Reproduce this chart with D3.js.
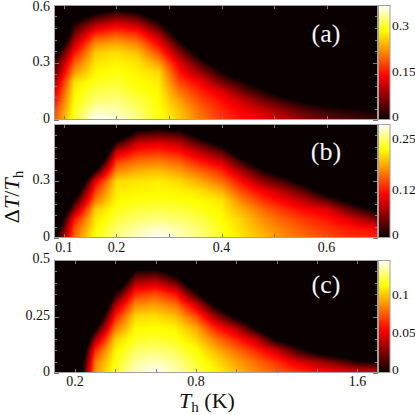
<!DOCTYPE html>
<html>
<head>
<meta charset="utf-8">
<script src="https://cdn.jsdelivr.net/npm/d3@7"></script>
<style>
  body { margin: 0; background: #fff; }
  svg { display: block; }
  text { font-family: "Liberation Serif", "DejaVu Serif", serif; }
</style>
</head>
<body>
<div id="chart"></div>
<script>
// grid positions (Th in K, dT/Th)
var thAB = [0.08,0.12,0.16,0.2,0.24,0.28,0.32,0.36,0.4,0.44,0.48,0.52,0.56,0.6,0.64,0.68,0.72];
var dtAB = [0,0.05,0.1,0.15,0.2,0.25,0.3,0.35,0.4,0.45,0.5,0.55,0.6];
var thC = [0.1,0.2,0.3,0.4,0.5,0.6,0.7,0.8,0.9,1.0,1.1,1.2,1.3,1.4,1.5,1.6,1.7];
var dtC = [0,0.05,0.1,0.15,0.2,0.25,0.3,0.35,0.4,0.45,0.5];

// values read off the picture as a fraction of each colour bar's top,
// one array per Th column, from dT/Th = 0 upwards; below zero shows black
var zA = [
  [0.5,0.46,0.38,0.3,0.2,0.1,0.03,-0.1,-0.3,-0.5,-0.7,-0.9,-1],
  [0.82,0.8,0.78,0.76,0.73,0.62,0.52,0.4,0.28,0.16,0.04,-0.15,-0.35],
  [1.0,0.94,0.88,0.84,0.8,0.77,0.74,0.7,0.6,0.44,0.24,0.03,-0.2],
  [0.96,0.93,0.89,0.85,0.82,0.79,0.76,0.73,0.64,0.5,0.34,0.12,-0.12],
  [0.9,0.87,0.84,0.8,0.78,0.76,0.74,0.68,0.58,0.45,0.27,0.06,-0.18],
  [0.8,0.79,0.78,0.77,0.75,0.72,0.62,0.5,0.38,0.24,0.06,-0.14,-0.34],
  [0.7,0.68,0.63,0.56,0.48,0.41,0.33,0.2,0.05,-0.12,-0.3,-0.5,-0.7],
  [0.57,0.54,0.49,0.43,0.36,0.22,0.08,-0.08,-0.25,-0.45,-0.65,-0.85,-1],
  [0.47,0.44,0.4,0.33,0.16,0.02,-0.14,-0.32,-0.5,-0.7,-0.9,-1,-1],
  [0.4,0.37,0.3,0.15,0.02,-0.14,-0.32,-0.5,-0.7,-0.9,-1,-1,-1],
  [0.35,0.3,0.16,0.03,-0.12,-0.3,-0.5,-0.7,-0.9,-1,-1,-1,-1],
  [0.28,0.2,0.06,-0.1,-0.28,-0.46,-0.66,-0.86,-1,-1,-1,-1,-1],
  [0.21,0.11,-0.02,-0.18,-0.35,-0.52,-0.7,-0.9,-1,-1,-1,-1,-1],
  [0.16,0.06,-0.06,-0.22,-0.4,-0.6,-0.8,-1,-1,-1,-1,-1,-1],
  [0.11,0.03,-0.1,-0.28,-0.46,-0.66,-0.86,-1,-1,-1,-1,-1,-1],
  [0.08,0.01,-0.12,-0.3,-0.5,-0.7,-0.9,-1,-1,-1,-1,-1,-1],
  [0.06,0.0,-0.14,-0.32,-0.52,-0.72,-0.92,-1,-1,-1,-1,-1,-1]
];
var zB = [
  [-0.1,-0.2,-0.35,-0.5,-0.65,-0.8,-1,-1,-1,-1,-1,-1,-1],
  [0.55,0.5,0.4,0.2,0.02,-0.18,-0.38,-0.58,-0.78,-1,-1,-1,-1],
  [0.8,0.77,0.74,0.7,0.57,0.47,0.34,0.05,-0.25,-0.5,-0.75,-1,-1],
  [0.9,0.87,0.83,0.8,0.77,0.75,0.72,0.6,0.48,0.3,0.06,-0.2,-0.45],
  [0.96,0.92,0.87,0.83,0.79,0.76,0.74,0.66,0.56,0.44,0.3,0.08,-0.16],
  [1.0,0.95,0.89,0.84,0.8,0.77,0.75,0.68,0.58,0.46,0.33,0.12,-0.12],
  [0.96,0.92,0.87,0.83,0.79,0.76,0.72,0.63,0.53,0.41,0.27,0.08,-0.16],
  [0.9,0.87,0.84,0.8,0.77,0.73,0.64,0.54,0.42,0.28,0.1,-0.1,-0.3],
  [0.82,0.8,0.78,0.76,0.74,0.65,0.55,0.45,0.32,0.14,-0.06,-0.26,-0.46],
  [0.74,0.72,0.7,0.65,0.57,0.48,0.38,0.24,0.06,-0.14,-0.34,-0.54,-0.74],
  [0.67,0.64,0.6,0.54,0.45,0.36,0.2,0.04,-0.16,-0.36,-0.56,-0.76,-0.96],
  [0.6,0.57,0.52,0.45,0.36,0.24,0.08,-0.12,-0.32,-0.52,-0.72,-0.92,-1],
  [0.55,0.51,0.46,0.38,0.26,0.1,-0.1,-0.3,-0.5,-0.7,-0.9,-1,-1],
  [0.5,0.46,0.41,0.34,0.12,-0.1,-0.3,-0.5,-0.7,-0.9,-1,-1,-1],
  [0.46,0.42,0.34,0.16,-0.04,-0.24,-0.44,-0.64,-0.84,-1,-1,-1,-1],
  [0.45,0.39,0.22,0.02,-0.2,-0.4,-0.6,-0.8,-1,-1,-1,-1,-1],
  [0.43,0.35,0.1,-0.12,-0.32,-0.52,-0.72,-0.92,-1,-1,-1,-1,-1]
];
var zC = [
  [-1,-1,-1,-1,-1,-1,-1,-1,-1,-1,-1],
  [-0.35,-0.4,-0.5,-0.6,-0.75,-0.9,-1,-1,-1,-1,-1],
  [0.62,0.56,0.44,0.22,-0.03,-0.28,-0.53,-0.78,-1,-1,-1],
  [0.82,0.79,0.76,0.7,0.56,0.42,0.25,0.02,-0.25,-0.5,-0.75],
  [0.95,0.91,0.86,0.81,0.77,0.72,0.6,0.45,0.25,0.02,-0.25],
  [1.0,0.94,0.88,0.82,0.78,0.73,0.63,0.5,0.3,0.05,-0.22],
  [0.94,0.9,0.85,0.8,0.76,0.68,0.56,0.4,0.15,-0.1,-0.35],
  [0.85,0.82,0.78,0.72,0.64,0.5,0.32,0.05,-0.2,-0.45,-0.7],
  [0.77,0.73,0.66,0.56,0.42,0.22,-0.04,-0.3,-0.55,-0.8,-1],
  [0.68,0.63,0.55,0.43,0.26,-0.04,-0.3,-0.56,-0.8,-1,-1],
  [0.6,0.54,0.44,0.28,-0.03,-0.3,-0.56,-0.8,-1,-1,-1],
  [0.53,0.45,0.3,-0.03,-0.3,-0.56,-0.8,-1,-1,-1,-1],
  [0.48,0.33,0.08,-0.15,-0.4,-0.65,-0.9,-1,-1,-1,-1],
  [0.43,0.24,-0.08,-0.3,-0.55,-0.8,-1,-1,-1,-1,-1],
  [0.39,0.15,-0.2,-0.42,-0.66,-0.9,-1,-1,-1,-1,-1],
  [0.36,0.03,-0.3,-0.52,-0.76,-1,-1,-1,-1,-1,-1],
  [0.33,-0.02,-0.35,-0.58,-0.82,-1,-1,-1,-1,-1,-1]
];

// colour bar tops and ticks
var cbMax = [0.37, 0.29, 0.146];
var cbTicksA = [0, 0.15, 0.3];
var cbTicksB = [0, 0.12, 0.25];
var cbTicksC = [0, 0.05, 0.1];

// axis ticks
var xTicksAB = [0.1,0.2,0.3,0.4,0.5,0.6];
var xLabelsB = [0.1,0.2,0.4,0.6];
var xTicksC = [0.2,0.4,0.6,0.8,1.0,1.2,1.4,1.6];
var xLabelsC = [0.2,0.8,1.6];
var yTicksAB = [0,0.06,0.12,0.18,0.24,0.3,0.36,0.42,0.48,0.54,0.6];
var yTicksC = [0,0.05,0.1,0.15,0.2,0.25,0.3,0.35,0.4,0.45,0.5];
var yLabelsA = [0,0.3,0.6];
var yLabelsB = [0,0.3];
var yLabelsC = [0,0.25,0.5];
var panelNames = ["(a)", "(b)", "(c)"];

var width = 415, height = 415;
var left = 54, right = 378, cbW = 11.5;
var serif = "Liberation Serif";

var hot = d3.scaleLinear()
  .domain([0, 0.38, 0.78, 1])
  .range(["#0a0000", "#ff0000", "#ffff00", "#ffffff"])
  .clamp(true);

var panels = [
  {z: zA, th: thAB, dt: dtAB, xdom: [0.081, 0.698], ydom: [0, 0.6], top: 5, bottom: 120,
   xt: xTicksAB, xl: [], yt: yTicksAB, yl: yLabelsA, ymaj: [0, 0.3, 0.6], cbt: cbTicksA, lab: 41.5},
  {z: zB, th: thAB, dt: dtAB, xdom: [0.081, 0.698], ydom: [0, 0.6], top: 124, bottom: 238,
   xt: xTicksAB, xl: xLabelsB, yt: yTicksAB, yl: yLabelsB, ymaj: [0, 0.3, 0.6], cbt: cbTicksB, lab: 159.5},
  {z: zC, th: thC, dt: dtC, xdom: [0.096, 1.702], ydom: [0, 0.5], top: 260, bottom: 373,
   xt: xTicksC, xl: xLabelsC, yt: yTicksC, yl: yLabelsC, ymaj: [0, 0.25, 0.5], cbt: cbTicksC, lab: 292.5}
];

var svg = d3.select("#chart").append("svg")
  .attr("width", width)
  .attr("height", height);

var defs = svg.append("defs");

var grad = defs.append("linearGradient")
  .attr("id", "hotgrad")
  .attr("x1", 0).attr("y1", 1).attr("x2", 0).attr("y2", 0);
grad.selectAll("stop")
  .data(hot.domain())
  .enter().append("stop")
    .attr("offset", function(d) { return d; })
    .attr("stop-color", function(d) { return hot(d); });

function densityImage(p, x, y) {
  // smooth shading between the grid points, like a density plot
  var w = right - left, h = p.bottom - p.top;
  var canvas = document.createElement("canvas");
  canvas.width = w; canvas.height = h;
  var ctx = canvas.getContext("2d");
  var img = ctx.createImageData(w, h);
  var gi = d3.scaleLinear().domain([p.th[0], p.th[p.th.length - 1]]).range([0, p.th.length - 1]).clamp(true);
  var gj = d3.scaleLinear().domain([p.dt[0], p.dt[p.dt.length - 1]]).range([0, p.dt.length - 1]).clamp(true);
  for (var py = 0; py < h; py++) {
    var fj = gj(y.invert(p.top + py + 0.5));
    var j0 = Math.min(Math.floor(fj), p.dt.length - 2), tj = fj - j0;
    for (var px = 0; px < w; px++) {
      var fi = gi(x.invert(left + px + 0.5));
      var i0 = Math.min(Math.floor(fi), p.th.length - 2), ti = fi - i0;
      var v = (1 - ti) * ((1 - tj) * p.z[i0][j0] + tj * p.z[i0][j0 + 1]) +
              ti * ((1 - tj) * p.z[i0 + 1][j0] + tj * p.z[i0 + 1][j0 + 1]);
      var c = d3.rgb(hot(v));
      var k = (py * w + px) * 4;
      img.data[k] = c.r; img.data[k + 1] = c.g; img.data[k + 2] = c.b; img.data[k + 3] = 255;
    }
  }
  ctx.putImageData(img, 0, 0);
  return canvas.toDataURL();
}

panels.forEach(function(p, n) {
  var x = d3.scaleLinear().domain(p.xdom).range([left, right]);
  var y = d3.scaleLinear().domain(p.ydom).range([p.bottom, p.top]);
  var cb = d3.scaleLinear().domain([0, cbMax[n]]).range([p.bottom, p.top]);

  var g = svg.append("g");

  g.append("image")
    .attr("href", densityImage(p, x, y))
    .attr("x", left).attr("y", p.top)
    .attr("width", right - left).attr("height", p.bottom - p.top)
    .attr("preserveAspectRatio", "none");

  // ticks on all four sides, pointing inward
  var tk = g.append("g")
    .attr("stroke", "#7a7a7a")
    .attr("stroke-width", 1)
    .attr("shape-rendering", "crispEdges");

  tk.selectAll("line.xb")
    .data(p.xt)
    .enter().append("line")
      .attr("class", "xb")
      .attr("x1", function(d) { return Math.round(x(d)) + 0.5; })
      .attr("x2", function(d) { return Math.round(x(d)) + 0.5; })
      .attr("y1", p.bottom).attr("y2", p.bottom - 4);
  tk.selectAll("line.xt")
    .data(p.xt)
    .enter().append("line")
      .attr("class", "xt")
      .attr("x1", function(d) { return Math.round(x(d)) + 0.5; })
      .attr("x2", function(d) { return Math.round(x(d)) + 0.5; })
      .attr("y1", p.top).attr("y2", p.top + 4);

  function ylen(d) { return p.ymaj.indexOf(d) >= 0 ? 5 : 3; }
  tk.selectAll("line.yl")
    .data(p.yt)
    .enter().append("line")
      .attr("class", "yl")
      .attr("y1", function(d) { return Math.round(y(d)) + 0.5; })
      .attr("y2", function(d) { return Math.round(y(d)) + 0.5; })
      .attr("x1", left).attr("x2", function(d) { return left + ylen(d); });
  tk.selectAll("line.yr")
    .data(p.yt)
    .enter().append("line")
      .attr("class", "yr")
      .attr("y1", function(d) { return Math.round(y(d)) + 0.5; })
      .attr("y2", function(d) { return Math.round(y(d)) + 0.5; })
      .attr("x1", right).attr("x2", function(d) { return right - ylen(d); });

  // frame
  g.append("rect")
    .attr("x", left + 0.5).attr("y", p.top + 0.5)
    .attr("width", right - left - 1).attr("height", p.bottom - p.top - 1)
    .attr("fill", "none")
    .attr("stroke", "#a0a0a0")
    .attr("stroke-width", 1);

  // colour bar
  g.append("rect")
    .attr("x", right + 0.5).attr("y", p.top + 0.5)
    .attr("width", cbW).attr("height", p.bottom - p.top - 1)
    .attr("fill", "url(#hotgrad)")
    .attr("stroke", "#a0a0a0")
    .attr("stroke-width", 1);

  g.selectAll("text.cb")
    .data(p.cbt)
    .enter().append("text")
      .attr("class", "cb")
      .attr("x", right + cbW + 2.5)
      .attr("y", function(d) { return d === 0 ? p.bottom - 4 : cb(d) - 1.5; })
      .attr("dominant-baseline", "central")
      .attr("font-family", serif)
      .attr("font-size", 13.5)
      .attr("fill", "#111")
      .text(function(d) { return String(d); });

  // tick labels
  g.selectAll("text.yl")
    .data(p.yl)
    .enter().append("text")
      .attr("class", "yl")
      .attr("x", 50)
      .attr("y", function(d) { return Math.max(y(d) - 1.5, 6.5); })
      .attr("text-anchor", "end")
      .attr("dominant-baseline", "central")
      .attr("font-family", serif)
      .attr("font-size", 14)
      .attr("fill", "#111")
      .text(function(d) { return String(d); });

  g.selectAll("text.xl")
    .data(p.xl)
    .enter().append("text")
      .attr("class", "xl")
      .attr("x", function(d) { return x(d); })
      .attr("y", n === 1 ? 252 : 385.5)
      .attr("text-anchor", "middle")
      .attr("font-family", serif)
      .attr("font-size", 14)
      .attr("fill", "#111")
      .text(function(d) { return String(d); });

  g.append("text")
    .attr("x", 326)
    .attr("y", p.lab)
    .attr("text-anchor", "middle")
    .attr("font-family", serif)
    .attr("font-size", 26)
    .attr("fill", "#f4f4f4")
    .text(panelNames[n]);
});

// axis titles
var yt = svg.append("text")
  .attr("transform", "translate(19,197) rotate(-90)")
  .attr("text-anchor", "middle")
  .attr("font-family", serif)
  .attr("font-size", 22)
  .attr("fill", "#111");
yt.append("tspan").text("\u0394");
yt.append("tspan").attr("font-style", "italic").text("T");
yt.append("tspan").text("/");
yt.append("tspan").attr("font-style", "italic").text("T");
yt.append("tspan").attr("font-size", 15).attr("dy", 4).text("h");

var xt = svg.append("text")
  .attr("x", 207)
  .attr("y", 408)
  .attr("text-anchor", "middle")
  .attr("font-family", serif)
  .attr("font-size", 22)
  .attr("fill", "#111");
xt.append("tspan").attr("font-style", "italic").text("T");
xt.append("tspan").attr("font-size", 15).attr("dy", 4).text("h");
xt.append("tspan").attr("dy", -4).text(" (K)");
</script>
</body>
</html>
